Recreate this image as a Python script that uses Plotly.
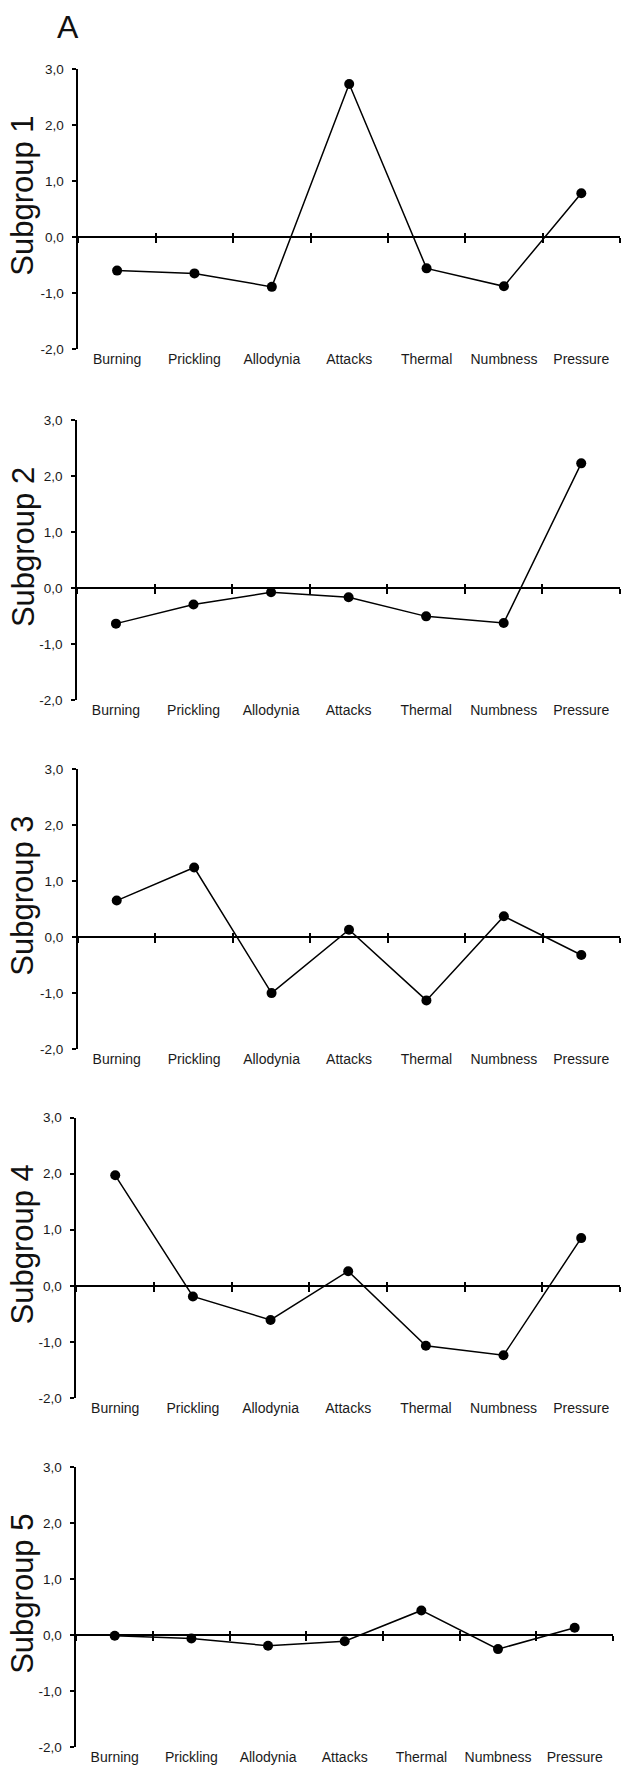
import plotly.graph_objects as go

W, H = 621, 1783

categories = ["Burning", "Prickling", "Allodynia", "Attacks", "Thermal", "Numbness", "Pressure"]
subgroup_names = ["Subgroup 1", "Subgroup 2", "Subgroup 3", "Subgroup 4", "Subgroup 5"]

subgroup1 = [-0.60, -0.65, -0.89, 2.73, -0.56, -0.88, 0.78]
subgroup2 = [-0.63, -0.29, -0.07, -0.16, -0.50, -0.62, 2.23]
subgroup3 = [0.65, 1.24, -1.00, 0.13, -1.13, 0.37, -0.32]
subgroup4 = [1.97, -0.19, -0.61, 0.26, -1.07, -1.24, 0.85]
subgroup5 = [-0.01, -0.06, -0.19, -0.11, 0.44, -0.25, 0.13]
series = [subgroup1, subgroup2, subgroup3, subgroup4, subgroup5]

y_tick_values = [-2, -1, 0, 1, 2, 3]
y_tick_labels = ["-2,0", "-1,0", "0,0", "1,0", "2,0", "3,0"]

# layout geometry (pixels): plot top, plot bottom, left, right
panels = [
    (62.3, 345.0, 78.4, 620.0),
    (416.7, 699.3, 77.2, 620.0),
    (768.3, 1051.0, 78.0, 620.0),
    (1120.0, 1402.7, 76.4, 620.0),
    (1472.3, 1755.0, 76.4, 613.0),
]

FONT = "Liberation Sans, Arial, sans-serif"
n = len(categories)
idx = list(range(n))
boundaries = [k + 0.5 for k in range(-1, n)]
xr = [-0.5, n - 0.5]
yr = [-2, 3]

fig = go.Figure()
layout = dict(
    width=W, height=H,
    margin=dict(l=0, r=0, t=0, b=0),
    paper_bgcolor="white", plot_bgcolor="rgba(0,0,0,0)",
    showlegend=False,
    font=dict(family=FONT, color="#1a1a1a"),
)
annotations = []

for i, (vals, name, (top, bot, left, right)) in enumerate(zip(series, subgroup_names, panels)):
    k = i + 1
    xa = "x" if k == 1 else f"x{k}"
    ya = "y" if k == 1 else f"y{k}"
    ydom = [1 - bot / H, 1 - top / H]
    xdom = [left / W, right / W]
    zero_pos = ydom[0] + (0 - yr[0]) / (yr[1] - yr[0]) * (ydom[1] - ydom[0])
    # zero-line axes with crossing tick marks (outside + inside overlays)
    for j, (tk, tl) in enumerate([("outside", 5), ("inside", 3)]):
        num = 5 + 2 * i + j + 1
        layout[f"xaxis{num}"] = dict(
            domain=xdom, range=xr, overlaying=xa, anchor="free", position=zero_pos,
            tickmode="array", tickvals=boundaries, showticklabels=False,
            ticks=tk, ticklen=tl, tickwidth=1.5, tickcolor="black",
            showline=True, linewidth=2, linecolor="black",
            showgrid=False, zeroline=False,
        )
        fig.add_trace(go.Scatter(
            x=idx, y=vals, xaxis=f"x{num}", yaxis=ya, mode="markers",
            marker=dict(opacity=0, size=1), hoverinfo="skip",
        ))
    fig.add_trace(go.Scatter(
        x=idx, y=vals, xaxis=xa, yaxis=ya, mode="lines+markers",
        line=dict(color="black", width=1.5),
        marker=dict(color="black", size=10),
        hoverinfo="skip",
    ))
    layout[f"xaxis{'' if k == 1 else k}"] = dict(
        domain=xdom, range=xr, anchor=ya,
        tickmode="array", tickvals=idx, ticktext=categories,
        showline=False, ticks="", showgrid=False, zeroline=False,
        tickfont=dict(size=14, family=FONT, color="#1a1a1a"),
    )
    layout[f"yaxis{'' if k == 1 else k}"] = dict(
        domain=ydom, range=yr, anchor=xa,
        tickmode="array", tickvals=y_tick_values, ticktext=y_tick_labels,
        ticks="outside", ticklen=4, tickwidth=1.5, tickcolor="black",
        showline=True, linewidth=2, linecolor="black",
        showgrid=False, zeroline=False,
        ticklabelstandoff=6,
        tickfont=dict(size=13.5, family=FONT, color="#1a1a1a"),
    )
    annotations.append(dict(
        text=name, xref="paper", yref="paper",
        x=23 / W, y=1 - (top + 128) / H, xanchor="center", yanchor="middle",
        textangle=-90, showarrow=False,
        font=dict(size=31, family=FONT, color="#111111"),
    ))

annotations.append(dict(
    text="A", xref="paper", yref="paper", x=68 / W, y=1 - 20 / H,
    xanchor="center", yanchor="middle", showarrow=False,
    font=dict(size=32, family=FONT, color="#111111"),
))
layout["annotations"] = annotations
fig.update_layout(**layout)

fig.write_html("out.html", config={"displayModeBar": False},
               post_script="document.body.style.margin='0';")
